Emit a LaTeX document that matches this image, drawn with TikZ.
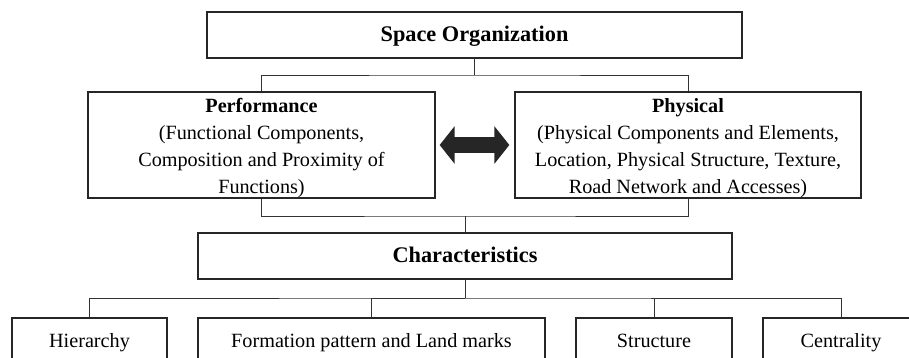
\documentclass[tikz,border=0pt]{standalone}
\usepackage{fontspec}
\setmainfont{Liberation Serif}
\usetikzlibrary{arrows.meta}
\tikzset{>=stealth}
\tikzset{
    box/.style={draw=black!85, line width=0.8pt, align=center, inner sep=2pt,
        font=\fontsize{11.5}{15.2}\selectfont},
    head/.style={box, minimum height=0.92cm, text height=1.9ex, text depth=0.4ex,
        font=\fontsize{12.7}{15}\selectfont\bfseries},
    leaf/.style={box, minimum height=0.92cm, text height=1.9ex, text depth=0.4ex},
    side/.style={box, minimum height=2.12cm, inner ysep=0pt},
    link/.style={draw=black!80, line width=0.5pt}
}

\begin{document}
\begin{tikzpicture}[x=0.02cm, y=-0.02cm]
    \clip (0,0) rectangle (909,358);
    \useasboundingbox (0,0) rectangle (909,358);
    \node[head, minimum width=10.7cm] (spc) at (474.5,35) {Space Organization};
    \node[side, minimum width=6.94cm] (perf) at (261.5,145)
        {\rule{0pt}{11.5pt}\textbf{Performance}\\(Functional Components,\\Composition and Proximity of\\Functions)};
    \node[side, minimum width=6.92cm] (phys) at (688,145)
        {\rule{0pt}{11.5pt}\textbf{Physical}\\(Physical Components and Elements,\\Location, Physical Structure, Texture,\\Road Network and Accesses)};
    \node[head, minimum width=10.68cm] (char) at (465,256) {Characteristics};
    \node[leaf, minimum width=3.1cm] (hier) at (89.5,341) {Hierarchy};
    \node[leaf, minimum width=6.94cm] (form) at (371.5,341) {Formation pattern and Land marks};
    \node[leaf, minimum width=3.12cm] (strc) at (654,341) {Structure};
    \node[leaf, minimum width=3.12cm] (cent) at (841,341) {Centrality};
    \coordinate (j1) at (474.5,75);
    \coordinate (j2) at (465,216);
    \coordinate (j3) at (465,298);
    \draw[link] (spc.south) -- (j1);
    \draw[link] (perf.north) |- (j1) -| (phys.north);
    \draw[link] (perf.south) |- (j2) -| (phys.south);
    \draw[link] (j2) -- (char.north);
    \draw[link] (char.south) -- (j3);
    \draw[link] (hier.north) |- (j3) -| (cent.north);
    \draw[link] (form.north) |- (j3);
    \draw[link] (strc.north) -- (strc.north |- j3);
    \draw[draw=black!85, line width=0.34cm,
        {Triangle[length=0.3cm, width=0.74cm, fill=black!85]}-{Triangle[length=0.3cm, width=0.74cm, fill=black!85]},
        shorten <=0.08cm, shorten >=0.1cm] (perf.east) -- (phys.west);
\end{tikzpicture}
\end{document}
